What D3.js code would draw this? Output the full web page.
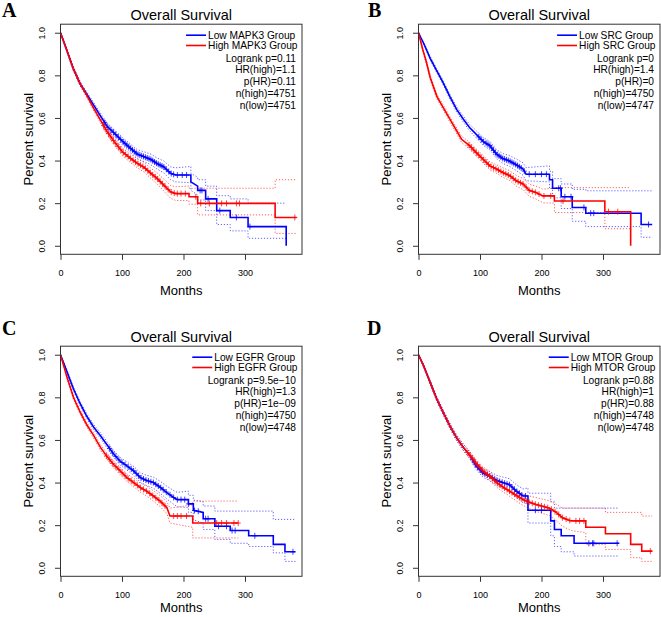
<!DOCTYPE html>
<html><head><meta charset="utf-8">
<script src="https://cdn.jsdelivr.net/npm/d3@7"></script>
<style>body{margin:0;background:#fff} svg{display:block}</style>
</head><body>
<svg id="c" width="661" height="617"></svg>
<script>
// ---------- DATA: rows are [months, survival, lowerCI, upperCI] ----------
const mapk3Low = [[0,1,1,1],[10,0.92,0.913,0.927],[21,0.83,0.821,0.839],[32,0.76,0.75,0.77],[43,0.71,0.699,0.721],[54,0.66,0.648,0.672],[65,0.61,0.597,0.623],[76,0.56,0.545,0.575],[87,0.53,0.514,0.546],[101,0.49,0.472,0.508],[114,0.457,0.437,0.477],[125,0.43,0.409,0.451],[136,0.418,0.395,0.441],[147,0.405,0.38,0.43],[157,0.386,0.36,0.412],[168,0.37,0.342,0.398],[179,0.34,0.31,0.37],[187,0.332,0.30,0.366],[212,0.332,0.296,0.372],[212,0.30,0.26,0.34],[223,0.28,0.238,0.322],[223,0.26,0.215,0.31],[236,0.26,0.215,0.31],[236,0.22,0.165,0.28],[254,0.22,0.165,0.28],[254,0.165,0.10,0.235],[276,0.165,0.10,0.235],[276,0.133,0.07,0.22],[305,0.133,0.07,0.22],[305,0.09,0.035,0.2],[367,0.09,0.035,0.2],[367,0,null,null]];
const mapk3High = [[0,1,1,1],[10,0.92,0.913,0.927],[21,0.83,0.821,0.839],[32,0.76,0.75,0.77],[43,0.705,0.694,0.716],[54,0.645,0.633,0.657],[65,0.59,0.577,0.603],[76,0.535,0.52,0.55],[87,0.49,0.474,0.506],[101,0.44,0.422,0.458],[114,0.41,0.39,0.43],[125,0.387,0.366,0.408],[136,0.368,0.346,0.39],[147,0.34,0.316,0.364],[157,0.316,0.29,0.342],[168,0.285,0.257,0.313],[179,0.253,0.223,0.283],[187,0.245,0.213,0.277],[209,0.245,0.212,0.28],[209,0.23,0.195,0.27],[223,0.23,0.195,0.27],[223,0.199,0.145,0.27],[349,0.199,0.145,0.27],[349,0.133,0.058,0.31],[384,0.133,0.058,0.31]];
const srcLow = [[0,1,1,1],[10,0.94,0.934,0.946],[19,0.88,0.872,0.888],[30,0.82,0.811,0.829],[40,0.766,0.756,0.776],[51,0.70,0.689,0.711],[62,0.64,0.628,0.652],[73,0.594,0.58,0.608],[83,0.555,0.54,0.57],[94,0.523,0.506,0.54],[105,0.49,0.472,0.508],[116,0.47,0.45,0.49],[127,0.43,0.409,0.451],[137,0.41,0.387,0.433],[148,0.398,0.373,0.423],[159,0.38,0.353,0.407],[170,0.36,0.331,0.389],[175,0.336,0.305,0.367],[213,0.336,0.30,0.375],[213,0.31,0.27,0.35],[218,0.31,0.27,0.35],[218,0.27,0.225,0.315],[232,0.27,0.225,0.315],[232,0.23,0.175,0.29],[250,0.23,0.175,0.29],[250,0.18,0.115,0.265],[272,0.18,0.115,0.265],[272,0.153,0.09,0.258],[362,0.153,0.09,0.258],[362,0.10,0.04,0.258],[380,0.10,0.04,0.258]];
const srcHigh = [[0,1,1,1],[7,0.92,0.913,0.927],[13,0.86,0.851,0.869],[19,0.79,0.78,0.80],[30,0.70,0.689,0.711],[40,0.65,0.638,0.662],[51,0.594,0.581,0.607],[62,0.54,0.526,0.554],[70,0.50,0.485,0.515],[83,0.47,0.454,0.486],[94,0.437,0.42,0.454],[105,0.406,0.388,0.424],[116,0.375,0.356,0.394],[127,0.36,0.34,0.38],[137,0.344,0.322,0.366],[148,0.33,0.307,0.353],[159,0.305,0.28,0.33],[170,0.29,0.264,0.316],[180,0.26,0.232,0.288],[191,0.25,0.22,0.28],[202,0.234,0.202,0.266],[221,0.234,0.20,0.27],[221,0.21,0.156,0.273],[303,0.21,0.156,0.273],[303,0.16,0.08,0.273],[345,0.16,0.08,0.273],[345,0,null,null]];
const egfrLow = [[0,1,1,1],[10,0.925,0.918,0.932],[21,0.84,0.831,0.849],[32,0.77,0.76,0.78],[43,0.71,0.699,0.721],[54,0.66,0.648,0.672],[65,0.62,0.607,0.633],[75,0.58,0.565,0.595],[86,0.535,0.519,0.551],[97,0.50,0.482,0.518],[108,0.478,0.459,0.497],[119,0.455,0.434,0.476],[130,0.423,0.401,0.445],[140,0.41,0.386,0.434],[151,0.40,0.374,0.426],[162,0.378,0.35,0.406],[173,0.353,0.323,0.383],[184,0.33,0.298,0.362],[190,0.32,0.286,0.354],[208,0.32,0.283,0.36],[208,0.30,0.26,0.34],[216,0.30,0.26,0.34],[216,0.27,0.225,0.318],[232,0.26,0.21,0.31],[232,0.23,0.18,0.29],[251,0.23,0.18,0.29],[251,0.195,0.133,0.266],[276,0.195,0.133,0.266],[276,0.175,0.115,0.266],[306,0.175,0.115,0.266],[306,0.15,0.10,0.266],[346,0.15,0.10,0.266],[346,0.11,0.07,0.227],[365,0.11,0.07,0.227],[365,0.075,0.03,0.227],[382,0.075,0.03,0.227]];
const egfrHigh = [[0,1,1,1],[10,0.90,0.893,0.907],[21,0.80,0.791,0.809],[32,0.73,0.72,0.74],[43,0.67,0.659,0.681],[54,0.62,0.608,0.632],[65,0.565,0.552,0.578],[75,0.525,0.51,0.54],[86,0.486,0.47,0.502],[97,0.455,0.438,0.472],[108,0.423,0.405,0.441],[119,0.40,0.38,0.42],[130,0.376,0.355,0.397],[140,0.36,0.337,0.383],[151,0.337,0.313,0.361],[162,0.313,0.287,0.339],[173,0.282,0.254,0.31],[178,0.243,0.21,0.28],[215,0.243,0.19,0.295],[215,0.21,0.14,0.313],[289,0.21,0.14,0.313]];
const mtorLow = [[0,1,1,1],[8,0.95,0.944,0.956],[19,0.87,0.862,0.878],[30,0.79,0.78,0.80],[40,0.73,0.719,0.741],[51,0.666,0.654,0.678],[62,0.61,0.597,0.623],[73,0.565,0.55,0.58],[83,0.53,0.514,0.546],[94,0.478,0.46,0.496],[105,0.445,0.425,0.465],[116,0.43,0.408,0.452],[127,0.41,0.386,0.434],[137,0.40,0.374,0.426],[148,0.39,0.362,0.418],[159,0.36,0.33,0.39],[170,0.337,0.305,0.37],[178,0.337,0.30,0.375],[178,0.27,0.21,0.35],[215,0.27,0.21,0.35],[215,0.22,0.15,0.31],[221,0.22,0.15,0.31],[221,0.18,0.10,0.28],[232,0.18,0.10,0.28],[232,0.15,0.075,0.28],[253,0.15,0.075,0.28],[253,0.115,0.055,0.28],[326,0.115,0.055,0.28]];
const mtorHigh = [[0,1,1,1],[8,0.95,0.944,0.956],[19,0.87,0.862,0.878],[30,0.79,0.78,0.80],[40,0.73,0.719,0.741],[51,0.666,0.654,0.678],[62,0.61,0.597,0.623],[73,0.565,0.55,0.58],[83,0.53,0.514,0.546],[94,0.49,0.473,0.507],[105,0.455,0.436,0.474],[116,0.43,0.41,0.45],[127,0.40,0.378,0.422],[137,0.38,0.357,0.403],[148,0.36,0.336,0.384],[159,0.34,0.314,0.366],[170,0.32,0.293,0.347],[178,0.31,0.281,0.339],[191,0.297,0.265,0.329],[213,0.28,0.245,0.315],[224,0.26,0.222,0.298],[234,0.235,0.195,0.28],[248,0.22,0.175,0.28],[272,0.22,0.165,0.28],[272,0.19,0.11,0.28],[304,0.19,0.11,0.28],[304,0.16,0.086,0.26],[345,0.16,0.086,0.26],[345,0.11,0.047,0.26],[363,0.11,0.047,0.26],[363,0.078,0.03,0.243],[380,0.078,0.03,0.243]];

// censoring times (months)
const mapk3LowCens = [72,77,82,86,90,94,98,102,105,108,111,114,117,120,123,126,129,132,135,138,141,144,147,150,153,156,159,162,165,168,172,176,180,184,190,198,205,227,230,240,259,286,308];
const mapk3HighCens = [70,74,78,82,86,90,94,98,102,106,110,114,118,122,126,130,134,138,142,146,150,154,158,162,166,170,175,180,185,190,196,203,220,228,242,262,270,286,291,381];
const srcLowCens = [98,102,106,110,113,116,119,122,125,128,131,134,137,140,143,146,149,152,155,158,161,164,167,172,180,190,200,208,228,231,238,248,269,280,285,374];
const srcHighCens = [82,86,90,94,98,102,106,110,114,118,122,126,130,134,138,142,146,150,154,158,162,166,170,175,180,185,190,196,204,215,235,309,324];
const egfrLowCens = [80,85,90,95,100,105,110,115,119,123,127,131,135,139,143,147,151,155,159,163,167,172,178,184,190,196,202,208,218,224,236,240,257,270,279,284,316,378];
const egfrHighCens = [75,80,85,90,95,100,105,110,115,120,125,130,135,140,145,150,155,160,165,170,184,190,196,205,254,262,270,282,289];
const mtorLowCens = [88,92,96,100,104,108,112,116,120,124,128,132,136,140,144,148,152,156,160,164,168,174,190,200,277,283,285,323];
const mtorHighCens = [80,84,88,92,96,100,104,108,112,116,120,124,128,132,136,140,144,148,152,156,160,164,168,172,176,180,185,190,195,200,205,210,216,222,228,234,240,246,256,262,269,377];

const mapk3Stats = ["Logrank p=0.11","HR(high)=1.1","p(HR)=0.11","n(high)=4751","n(low)=4751"];
const srcStats = ["Logrank p=0","HR(high)=1.4","p(HR)=0","n(high)=4750","n(low)=4747"];
const egfrStats = ["Logrank p=9.5e\u221210","HR(high)=1.3","p(HR)=1e\u221209","n(high)=4750","n(low)=4748"];
const mtorStats = ["Logrank p=0.88","HR(high)=1","p(HR)=0.88","n(high)=4748","n(low)=4748"];

const xTicks = [0,100,200,300];
const yTicks = [0,0.2,0.4,0.6,0.8,1.0];
const titleText = "Overall Survival";
const xLabel = "Months";
const yLabel = "Percent survival";

const panels = [
  {letter:"A", gene:"MAPK3", low:mapk3Low, high:mapk3High, lowC:mapk3LowCens, highC:mapk3HighCens, stats:mapk3Stats, ox:0, oy:0, lx:2, ly:17, xly:295},
  {letter:"B", gene:"SRC", low:srcLow, high:srcHigh, lowC:srcLowCens, highC:srcHighCens, stats:srcStats, ox:358, oy:0, lx:368, ly:17, xly:295},
  {letter:"C", gene:"EGFR", low:egfrLow, high:egfrHigh, lowC:egfrLowCens, highC:egfrHighCens, stats:egfrStats, ox:0, oy:322, lx:2, ly:335, xly:290},
  {letter:"D", gene:"MTOR", low:mtorLow, high:mtorHigh, lowC:mtorLowCens, highC:mtorHighCens, stats:mtorStats, ox:358, oy:322, lx:367, ly:335, xly:290}
];

// ---------- DRAW ----------
const FONT = "'Liberation Sans', Arial, Helvetica, sans-serif";
const BLUE = "#0000ff", RED = "#ff0000";
const svg = d3.select("#c").style("font-family", FONT);
const x = d3.scaleLinear().domain([0, 392.7]).range([60.5, 302]);
const y = d3.scaleLinear().domain([-0.04, 1.04]).range([254.3, 24.2]);

function survAt(rows, t){
  let v = rows[0][1];
  for (let i=0;i<rows.length;i++){
    if (rows[i][0] <= t) { v = rows[i][1];
      if (i+1<rows.length && rows[i+1][0] > t){
        const a=rows[i], b=rows[i+1];
        v = a[1] + (b[1]-a[1])*(t-a[0])/(b[0]-a[0]);
      }
    }
  }
  return v;
}

panels.forEach(p => {
  const g = svg.append("g").attr("transform", `translate(${p.ox},${p.oy})`);
  svg.append("text").attr("x", p.lx).attr("y", p.ly).text(p.letter)
    .style("font-family","'Liberation Serif','Times New Roman',serif")
    .style("font-weight","bold").style("font-size","20px");
  g.append("text").attr("x", 181.25).attr("y", 20).attr("text-anchor","middle")
    .style("font-size","14.5px").text(titleText);

  const clipId = "clip"+p.letter;
  g.append("clipPath").attr("id", clipId).append("rect")
    .attr("x",60.5).attr("y",24.2).attr("width",241.5).attr("height",230.1);
  const plot = g.append("g").attr("clip-path", `url(#${clipId})`);

  const groups = [{rows:p.low, cens:p.lowC, col:BLUE},{rows:p.high, cens:p.highC, col:RED}];
  groups.forEach(gr => {
    [2,3].forEach(idx => {
      const line = d3.line().defined(d => d[idx] !== null).x(d => x(d[0])).y(d => y(d[idx]));
      plot.append("path").attr("d", line(gr.rows)).attr("fill","none")
        .attr("stroke", gr.col).attr("stroke-width", 0.9).attr("stroke-opacity",0.7)
        .attr("stroke-dasharray","1.2,1.8");
    });
  });
  groups.forEach(gr => {
    const line = d3.line().x(d => x(d[0])).y(d => y(d[1]));
    plot.append("path").attr("d", line(gr.rows)).attr("fill","none")
      .attr("stroke", gr.col).attr("stroke-width", 1.6);
    plot.append("g").selectAll("path").data(gr.cens).join("path")
      .attr("d", t => { const cx=x(t), cy=y(survAt(gr.rows,t)); return `M${cx-2.5},${cy}H${cx+2.5}M${cx},${cy-3}V${cy+3}`; })
      .attr("stroke", gr.col).attr("stroke-width",1).attr("stroke-opacity",0.75).attr("fill","none");
  });

  g.append("rect").attr("x",60.5).attr("y",24.2).attr("width",241.5).attr("height",230.1)
    .attr("fill","none").attr("stroke","#333").attr("stroke-width",1);

  const ya = g.append("g").attr("transform","translate(60.5,0)")
    .call(d3.axisLeft(y).tickValues(yTicks).tickSize(5.5).tickFormat(d3.format(".1f")));
  ya.select(".domain").remove();
  ya.selectAll("line").attr("stroke","#333");
  ya.selectAll("text").attr("x",null).attr("dy","0.35em")
    .attr("transform","translate(-18.8,0) rotate(-90)").attr("text-anchor","middle")
    .style("font-size","9px").style("font-family",FONT).attr("fill","#000");

  const xa = g.append("g").attr("transform","translate(0,254.3)")
    .call(d3.axisBottom(x).tickValues(xTicks).tickSize(5.5).tickPadding(9.5).tickFormat(d3.format("d")));
  xa.select(".domain").remove();
  xa.selectAll("line").attr("stroke","#333");
  xa.selectAll("text").style("font-size","9px").style("font-family",FONT).attr("fill","#000");

  g.append("text").attr("x",181.25).attr("y",p.xly).attr("text-anchor","middle")
    .style("font-size","13px").text(xLabel);
  g.append("text").attr("transform","translate(32.5,139.2) rotate(-90)").attr("text-anchor","middle")
    .style("font-size","13px").text(yLabel);

  // legend
  const labels = [`Low ${p.gene} Group`, `High ${p.gene} Group`];
  const lg = g.append("g").style("font-size","10.2px");
  const tnodes = labels.map((l,i) => lg.append("text").attr("y", [35.2,45.5][i]).attr("dy","0.35em").text(l));
  const maxW = d3.max(tnodes, n => n.node().getComputedTextLength());
  const start = 297.5 - maxW;
  tnodes.forEach((n,i) => {
    n.attr("x", start);
    lg.append("line").attr("x1", start-22).attr("x2", start-2)
      .attr("y1", [35.2,45.5][i]).attr("y2", [35.2,45.5][i])
      .attr("stroke", i===0?BLUE:RED).attr("stroke-width",1.6);
  });
  p.stats.forEach((s,i) => {
    lg.append("text").attr("x",296).attr("y", 58 + i*11.8).attr("dy","0.35em")
      .attr("text-anchor","end").text(s);
  });
});
</script>
</body></html>
